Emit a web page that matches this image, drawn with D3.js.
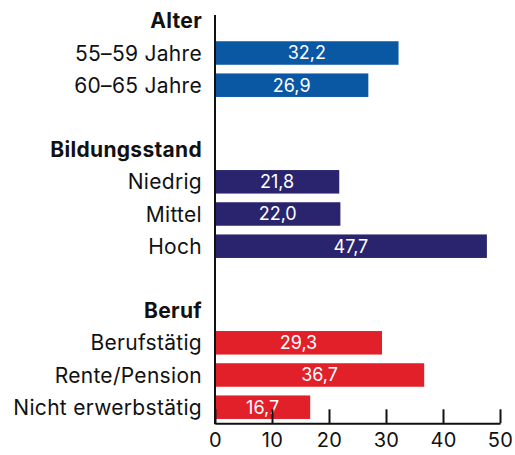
<!DOCTYPE html>
<html><head><meta charset="utf-8">
<script src="https://cdn.jsdelivr.net/npm/d3@7"></script>
<style>body{margin:0;background:#fff}svg{display:block}</style>
</head><body>
<script>
const groups = ["Alter", "Bildungsstand", "Beruf"];
const groupColors = ["#0a57a4", "#2a246e", "#e1202a"];
const categories = [
  ["55–59 Jahre", "60–65 Jahre"],
  ["Niedrig", "Mittel", "Hoch"],
  ["Berufstätig", "Rente/Pension", "Nicht erwerbstätig"]
];
const values = [
  [32.2, 26.9],
  [21.8, 22.0, 47.7],
  [29.3, 36.7, 16.7]
];
const xTicks = [0, 10, 20, 30, 40, 50];

const W = 515, H = 455;
const FONT = "Inter, 'Noto Sans', sans-serif";
const svg = d3.select("body").append("svg").attr("width", W).attr("height", H);

// build rows
const rows = [];
groups.forEach((g, gi) => {
  if (gi > 0) rows.push({type: "gap", key: "gap" + gi});
  rows.push({type: "header", key: "h" + gi, label: g});
  categories[gi].forEach((c, ci) => rows.push({type: "bar", key: "b" + gi + "_" + ci, label: c, value: values[gi][ci], color: groupColors[gi]}));
});

const x = d3.scaleLinear().domain([0, 50]).range([215, 500]);
const y = d3.scaleBand().domain(rows.map(r => r.key)).range([4.7, 423.3]).paddingInner(0.27).paddingOuter(0.135);

const bars = rows.filter(r => r.type === "bar");
svg.selectAll("rect.bar").data(bars).enter().append("rect")
  .attr("class", "bar")
  .attr("x", x(0) + 1)
  .attr("y", d => y(d.key))
  .attr("width", d => x(d.value) - x(0) - 1)
  .attr("height", y.bandwidth())
  .attr("fill", d => d.color);

svg.selectAll("text.val").data(bars).enter().append("text")
  .attr("class", "val")
  .attr("x", d => (x(0) + x(d.value)) / 2)
  .attr("y", d => y(d.key) + y.bandwidth() / 2)
  .attr("dy", "0.36em")
  .attr("text-anchor", "middle")
  .attr("fill", "#fff")
  .style("font-family", FONT)
  .style("font-size", "18px")
  .text(d => d3.format(".1f")(d.value).replace(".", ","));

svg.selectAll("text.lab").data(rows.filter(r => r.type !== "gap")).enter().append("text")
  .attr("class", "lab")
  .attr("x", 202)
  .attr("y", d => y(d.key) + y.bandwidth() / 2)
  .attr("dy", "0.36em")
  .attr("text-anchor", "end")
  .attr("fill", "#111")
  .style("font-family", FONT)
  .style("font-size", "21px")
  .style("letter-spacing", "0.3px")
  .style("font-weight", d => d.type === "header" ? 700 : 400)
  .text(d => d.label);

// axes
const axisY = 423.3;
const xAxis = d3.axisBottom(x).tickValues(xTicks).tickSizeInner(-14).tickSizeOuter(0).tickPadding(10);
const gx = svg.append("g").attr("transform", `translate(0,${axisY})`).call(xAxis);
gx.select(".domain").attr("stroke", "#111").attr("stroke-width", 2);
gx.selectAll(".tick line").attr("stroke", "#111").attr("stroke-width", 2);
gx.selectAll(".tick text").attr("fill", "#111").style("font-family", FONT).style("font-size", "20px").style("letter-spacing", "0.3px");

svg.append("line").attr("x1", x(0)).attr("x2", x(0)).attr("y1", 15).attr("y2", axisY + 1)
  .attr("stroke", "#111").attr("stroke-width", 2);
</script>
</body></html>
